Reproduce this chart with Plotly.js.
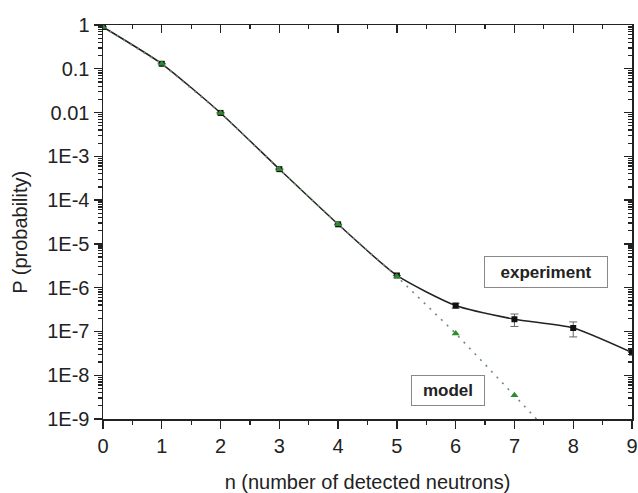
<!DOCTYPE html>
<html>
<head>
<meta charset="utf-8">
<script src="https://cdn.plot.ly/plotly-3.0.1.min.js"></script>
<style>
  html, body { margin: 0; padding: 0; background: #fff; }
  #chart { width: 638px; height: 493px; }
</style>
</head>
<body>
<div id="chart"></div>
<script>
// Neutron multiplicity: measured vs. modelled probabilities
const nExp = [0, 1, 2, 3, 4, 5, 6, 7, 8, 9];
const pExp = [0.9, 0.13, 0.0098, 5.1e-4, 2.8e-5, 1.9e-6, 3.9e-7, 1.9e-7, 1.2e-7, 3.3e-8];
const errUp = [0, 0, 0, 0, 0, 0, 0.5e-7, 0.6e-7, 0.45e-7, 0];
const errDown = [0, 0, 0, 0, 0, 0, 0.5e-7, 0.6e-7, 0.45e-7, 0];

const nModel = [0, 1, 2, 3, 4, 5, 6, 7, 8];
const pModel = [0.9, 0.13, 0.0098, 5.1e-4, 2.8e-5, 1.8e-6, 9e-8, 3.5e-9, 1.3e-10];

const yTickVals = [1, 0.1, 0.01, 1e-3, 1e-4, 1e-5, 1e-6, 1e-7, 1e-8, 1e-9];
const yTickText = ['1', '0.1', '0.01', '1E-3', '1E-4', '1E-5', '1E-6', '1E-7', '1E-8', '1E-9'];

const labelExp = 'experiment';
const labelModel = 'model';
const xTitle = 'n (number of detected neutrons)';
const yTitle = 'P (probability)';

const font = 'Liberation Sans, Arial, sans-serif';
const ink = '#222';

const traces = [
  {
    x: nExp, y: pExp, type: 'scatter', mode: 'lines+markers',
    line: { color: ink, width: 1.5, shape: 'spline', smoothing: 0.6 },
    marker: { symbol: 'square', size: 6, color: '#111' },
    error_y: { type: 'data', symmetric: false, array: errUp, arrayminus: errDown,
               color: '#666', thickness: 1, width: 4 },
    hoverinfo: 'x+y'
  },
  {
    x: nModel, y: pModel, type: 'scatter', mode: 'lines+markers',
    line: { color: '#6c8f6c', width: 1.6, dash: '2px,6px' },
    marker: { symbol: 'triangle-up', size: 7, color: '#2e8b2e' },
    hoverinfo: 'x+y'
  },
  // carrier for the mirrored frame axes (top / right); draws nothing
  {
    x: nExp, y: pExp, xaxis: 'x2', yaxis: 'y2', type: 'scatter', mode: 'lines',
    line: { width: 0 }, opacity: 0, hoverinfo: 'skip'
  }
];

const frame = { showline: true, linecolor: ink, linewidth: 1.5, zeroline: false, showgrid: false };
const tickStyle = { ticklen: 8, tickwidth: 1.3, tickcolor: ink };

const layout = {
  width: 638, height: 493,
  margin: { l: 103, r: 6, t: 25, b: 74 },
  paper_bgcolor: '#fff', plot_bgcolor: '#fff',
  showlegend: false,
  font: { family: font, color: ink },
  xaxis: Object.assign({}, frame, tickStyle, {
    range: [0, 9], tickmode: 'linear', tick0: 0, dtick: 1,
    ticks: 'outside',
    minor: { tickmode: 'linear', dtick: 0.5, ticks: 'outside', ticklen: 4, tickcolor: ink, showgrid: false },
    tickfont: { size: 20, color: ink },
    title: { text: xTitle, font: { size: 20, color: ink }, standoff: 22 }
  }),
  yaxis: Object.assign({}, frame, tickStyle, {
    type: 'log', range: [-9, 0],
    tickmode: 'array', tickvals: yTickVals, ticktext: yTickText,
    ticks: 'outside',
    minor: { dtick: 'D1', ticks: 'outside', ticklen: 4, tickcolor: ink, showgrid: false },
    tickfont: { size: 20, color: ink }
  }),
  xaxis2: Object.assign({}, frame, tickStyle, {
    overlaying: 'x', side: 'top', range: [0, 9],
    tickmode: 'linear', tick0: 0, dtick: 1,
    ticks: 'inside', showticklabels: false,
    minor: { tickmode: 'linear', dtick: 0.5, ticks: 'inside', ticklen: 4, tickcolor: ink, showgrid: false }
  }),
  yaxis2: Object.assign({}, frame, tickStyle, {
    overlaying: 'y', side: 'right', type: 'log', range: [-9, 0],
    tickmode: 'array', tickvals: yTickVals, showticklabels: false,
    ticks: 'inside',
    minor: { dtick: 'D1', ticks: 'inside', ticklen: 4, tickcolor: ink, showgrid: false }
  }),
  annotations: [
    { x: -0.157, y: 0.475, xref: 'paper', yref: 'paper', xanchor: 'center', yanchor: 'middle',
      text: yTitle, textangle: -90,
      showarrow: false, font: { size: 20, color: ink, family: font } },
    { x: 7.54, y: -5.64, xref: 'x', yref: 'y', text: '<b>' + labelExp + '</b>', showarrow: false,
      font: { size: 17, color: ink, family: font }, bordercolor: '#888', borderwidth: 1,
      borderpad: 1, width: 120, height: 28, bgcolor: '#fff' },
    { x: 5.87, y: -8.36, xref: 'x', yref: 'y', text: '<b>' + labelModel + '</b>', showarrow: false,
      font: { size: 17, color: ink, family: font }, bordercolor: '#888', borderwidth: 1,
      borderpad: 1, width: 70, height: 27, bgcolor: '#fff' }
  ]
};

Plotly.newPlot('chart', traces, layout, { displayModeBar: false, staticPlot: true });
</script>
</body>
</html>
